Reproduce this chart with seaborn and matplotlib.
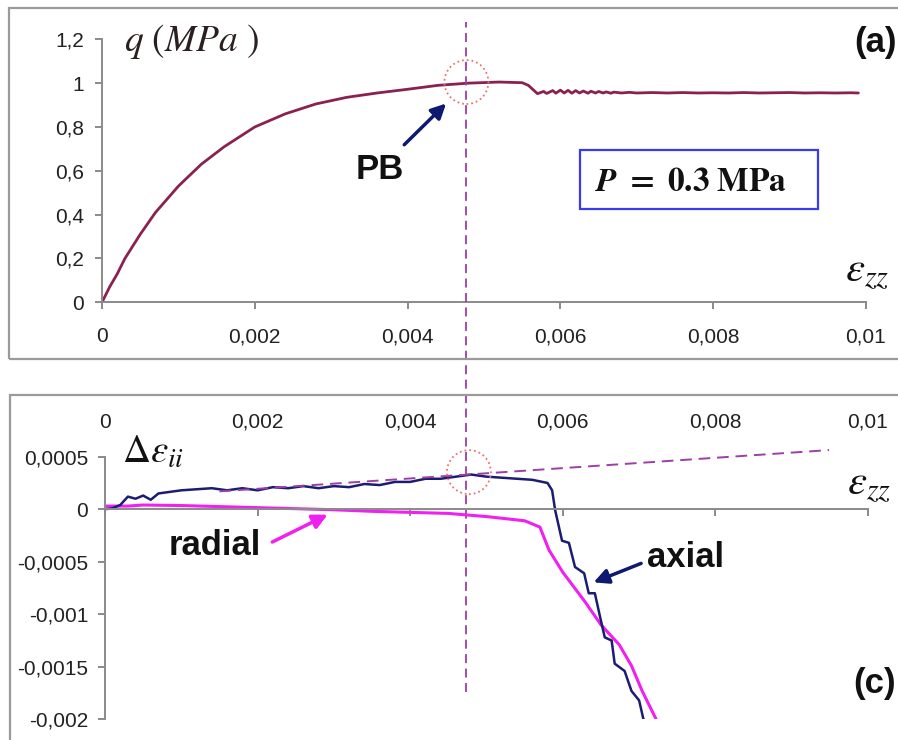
import seaborn as sns
import matplotlib.pyplot as plt
import pandas as pd
import numpy as np
from matplotlib.patches import Rectangle, Ellipse

# ---- data ----
x_ticks = [0, 0.002, 0.004, 0.006, 0.008, 0.01]
x_labels = ['0', '0,002', '0,004', '0,006', '0,008', '0,01']
q_ticks = [0, 0.2, 0.4, 0.6, 0.8, 1.0, 1.2]
q_labels = ['0', '0,2', '0,4', '0,6', '0,8', '1', '1,2']
d_ticks = [-0.002, -0.0015, -0.001, -0.0005, 0, 0.0005]
d_labels = ['-0,002', '-0,0015', '-0,001', '-0,0005', '0', '0,0005']

# (a) deviatoric stress q vs axial strain
eps_q = [0, 0.0001, 0.0002, 0.0003, 0.0005, 0.0007, 0.001, 0.0013, 0.0016, 0.002,
         0.0024, 0.0028, 0.0032, 0.0036, 0.004, 0.0044, 0.0048, 0.0052, 0.0055, 0.00558,
         0.0057, 0.00578, 0.00582, 0.0059, 0.00594, 0.006, 0.00605, 0.0061, 0.00615, 0.0062,
         0.00625, 0.0063, 0.00636, 0.0064, 0.00646, 0.0065, 0.00656, 0.0066, 0.00666, 0.0067,
         0.0068, 0.0069, 0.007, 0.0072, 0.0074, 0.0076, 0.0078, 0.008, 0.0082, 0.0084,
         0.0086, 0.0088, 0.009, 0.0092, 0.0094, 0.0096, 0.0098, 0.0099]
q_mpa = [0, 0.07, 0.13, 0.2, 0.31, 0.41, 0.53, 0.63, 0.71, 0.80,
         0.86, 0.905, 0.935, 0.955, 0.972, 0.99, 1.0, 1.005, 1.002, 0.99,
         0.952, 0.962, 0.953, 0.966, 0.954, 0.968, 0.955, 0.967, 0.954, 0.966,
         0.955, 0.964, 0.954, 0.963, 0.955, 0.962, 0.955, 0.96, 0.954, 0.959,
         0.955, 0.958, 0.955, 0.957, 0.955, 0.957, 0.955, 0.956, 0.955, 0.957,
         0.955, 0.956, 0.957, 0.955, 0.956, 0.955, 0.956, 0.955]

# (c) volumetric strain increments
eps_ax = [0, 0.0001, 0.0002, 0.0003, 0.0004, 0.0005, 0.0006, 0.0007, 0.0008, 0.001,
          0.0012, 0.0014, 0.0016, 0.0018, 0.002, 0.0022, 0.0024, 0.0026, 0.0028, 0.003,
          0.0032, 0.0034, 0.0036, 0.0038, 0.004, 0.0042, 0.0044, 0.0046, 0.0048, 0.005,
          0.0052, 0.0054, 0.0056, 0.0058, 0.00586, 0.0059, 0.00599, 0.00608, 0.00616, 0.00628,
          0.00634, 0.00642, 0.00649, 0.00655, 0.00664, 0.00668, 0.00681, 0.0069, 0.007, 0.00706]
d_axial = [0, 0.00001, 0.00004, 0.00012, 0.0001, 0.00013, 0.00009, 0.00015, 0.00016, 0.00018,
           0.00019, 0.0002, 0.00018, 0.0002, 0.00018, 0.00021, 0.0002, 0.00022, 0.0002, 0.00022,
           0.00021, 0.00024, 0.00023, 0.00026, 0.00026, 0.00029, 0.00029, 0.00031, 0.00033, 0.00031,
           0.0003, 0.00029, 0.00028, 0.00025, 0.00018, -0.00001, -0.0003, -0.00032, -0.00055, -0.00061,
           -0.0008, -0.0008, -0.00103, -0.00122, -0.00125, -0.00147, -0.00154, -0.00173, -0.00182, -0.00201]

eps_rad = [0, 0.0003, 0.0005, 0.001, 0.0015, 0.002, 0.0025, 0.003, 0.0035, 0.004,
           0.0045, 0.005, 0.0055, 0.0057, 0.00582, 0.006, 0.00629, 0.0065, 0.00674, 0.0069,
           0.00704, 0.00723]
d_radial = [0.00003, 0.00003, 0.00004, 0.000035, 0.000025, 0.000015, 0.000005, -0.000005, -0.00002, -0.00003,
            -0.00004, -0.00007, -0.00011, -0.00017, -0.00039, -0.0006, -0.00088, -0.0011, -0.00129, -0.00149,
            -0.00173, -0.00201]

trend_eps = [0.0015, 0.00949]
trend_d = [0.00017, 0.000563]

eps_pb = 0.00477

# ---- styling ----
sns.set_theme(style='white')
plt.rcParams['font.family'] = ['Liberation Sans', 'DejaVu Sans']
plt.rcParams['mathtext.fontset'] = 'stix'

c_q = '#8a2150'
c_ax = '#1c1c73'
c_rad = '#f020f0'
c_pb = '#9b3fa5'
c_circ = '#f07070'
c_navy = '#0d1a70'
c_spine = '#8a8a8a'
c_txt = '#222222'

fig = plt.figure(figsize=(8.98, 7.40), dpi=100)
ax_t = fig.add_axes([102 / 898, 1 - 302.3 / 740, 764 / 898, 263 / 740])
ax_b = fig.add_axes([105 / 898, 1 - 719.3 / 740, 763 / 898, 262.6 / 740])
for ax in (ax_t, ax_b):
    ax.set_facecolor('none')

# outer frames
fig.patches.append(Rectangle((9 / 898, 1 - 359 / 740), 1.0, 351 / 740, transform=fig.transFigure,
                             fill=False, edgecolor='#9a9a9a', lw=1.6, zorder=0))
fig.patches.append(Rectangle((10 / 898, -0.05), 1.0, 1 - 395 / 740 + 0.05, transform=fig.transFigure,
                             fill=False, edgecolor='#9a9a9a', lw=1.6, zorder=0))

# ---- top panel (a) ----
sns.lineplot(x=eps_q, y=q_mpa, ax=ax_t, color=c_q, lw=2.0, sort=False, estimator=None)
ax_t.set_xlim(0, 0.01)
ax_t.set_ylim(0, 1.2)
ax_t.set_xticks(x_ticks, labels=x_labels)
ax_t.set_yticks(q_ticks, labels=q_labels)
ax_t.set_xlabel('')
ax_t.set_ylabel('')
for s in ('top', 'right'):
    ax_t.spines[s].set_visible(False)
for s in ('left', 'bottom'):
    ax_t.spines[s].set_color(c_spine)
    ax_t.spines[s].set_linewidth(1.4)
ax_t.tick_params(axis='x', bottom=True, direction='out', length=5, width=1.4, color=c_spine,
                 labelsize=15, labelcolor=c_txt, pad=13)
ax_t.tick_params(axis='y', left=True, direction='out', length=5, width=1.4, color=c_spine,
                 labelsize=15, labelcolor=c_txt, pad=8)

ax_t.text(0.00029, 1.19, r'$q\ (MPa\ )$', fontsize=27, color='#2a2020', va='center', ha='left')
ax_t.text(0.01040, 1.186, '(a)', fontsize=25, fontweight='bold', color='#111', va='center', ha='right')
ax_t.text(0.01001, 0.14, r'$\varepsilon_{zz}$', fontsize=31, color='#111', va='center', ha='center')
ax_t.text(0.00363, 0.605, 'PB', fontsize=25, fontweight='bold', color='#111', va='center', ha='center')
ax_t.annotate('', xy=(0.00453, 0.916), xytext=(0.00393, 0.71),
              arrowprops=dict(arrowstyle='-|>', color=c_navy, lw=2.5, mutation_scale=22))
ax_t.add_patch(Ellipse((eps_pb, 1.005), 0.000576, 0.2008, fill=False, edgecolor=c_circ,
                       ls=':', lw=1.3, zorder=4))
ax_t.add_patch(Rectangle((0.00625, 0.426), 0.00312, 0.27, fill=False, edgecolor='#3a3af5', lw=1.6))
ax_t.text(0.00771, 0.545, r'$\mathbfit{P}\ \mathbf{=\ 0.3\ MPa}$', fontsize=24, color='#111',
          va='center', ha='center')

# vertical PB line crossing both panels
ax_t.axvline(eps_pb, ymin=-1.482, ymax=1.066, color=c_pb, lw=1.3, ls=(0, (5, 3)),
             clip_on=False, zorder=5)

# ---- bottom panel (c) ----
sns.lineplot(x=eps_rad, y=d_radial, ax=ax_b, color=c_rad, lw=2.2, sort=False, estimator=None)
sns.lineplot(x=eps_ax, y=d_axial, ax=ax_b, color=c_ax, lw=1.8, sort=False, estimator=None)
sns.lineplot(x=trend_eps, y=trend_d, ax=ax_b, color=c_pb, lw=1.4, ls=(0, (6, 3.5)),
             sort=False, estimator=None, clip_on=False)
ax_b.set_xlim(0, 0.01)
ax_b.set_ylim(-0.002, 0.0005)
ax_b.set_xticks(x_ticks)
ax_b.set_yticks(d_ticks, labels=d_labels)
ax_b.set_xlabel('')
ax_b.set_ylabel('')
for s in ('top', 'right'):
    ax_b.spines[s].set_visible(False)
ax_b.spines['bottom'].set_position(('data', 0))
for s in ('left', 'bottom'):
    ax_b.spines[s].set_color(c_spine)
    ax_b.spines[s].set_linewidth(1.4)
ax_b.tick_params(axis='x', bottom=True, direction='out', length=5, width=1.4, color=c_spine,
                 labelbottom=False)
ax_b.tick_params(axis='y', left=True, direction='out', length=5, width=1.4, color=c_spine,
                 labelsize=15, labelcolor=c_txt, pad=7)

sec = ax_b.secondary_xaxis(1.08)
sec.set_xticks(x_ticks, labels=x_labels)
sec.tick_params(length=0, labelsize=15, labelcolor=c_txt, pad=3)
for s in sec.spines.values():
    s.set_visible(False)

ax_b.text(0.00022, 0.00054, r'$\Delta\varepsilon_{ii}$', fontsize=28, color='#111', va='center', ha='left')
ax_b.text(0.01001, 0.000235, r'$\varepsilon_{zz}$', fontsize=31, color='#111', va='center', ha='center')
ax_b.text(0.00144, -0.000344, 'radial', fontsize=25, fontweight='bold', color='#111', va='center', ha='center')
ax_b.annotate('', xy=(0.00295, -0.00004), xytext=(0.00216, -0.000324),
              arrowprops=dict(arrowstyle='-|>', color=c_rad, lw=2.5, mutation_scale=22))
ax_b.text(0.00761, -0.000458, 'axial', fontsize=25, fontweight='bold', color='#111', va='center', ha='center')
ax_b.annotate('', xy=(0.00637, -0.000706), xytext=(0.00706, -0.000506),
              arrowprops=dict(arrowstyle='-|>', color=c_navy, lw=2.5, mutation_scale=22))
ax_b.text(0.01036, -0.00166, '(c)', fontsize=25, fontweight='bold', color='#111', va='center', ha='right')
ax_b.add_patch(Ellipse((eps_pb, 0.000353), 0.000576, 0.000419, fill=False, edgecolor=c_circ,
                       ls=':', lw=1.3, zorder=4, clip_on=False))

fig.savefig('out.png', dpi=100)
